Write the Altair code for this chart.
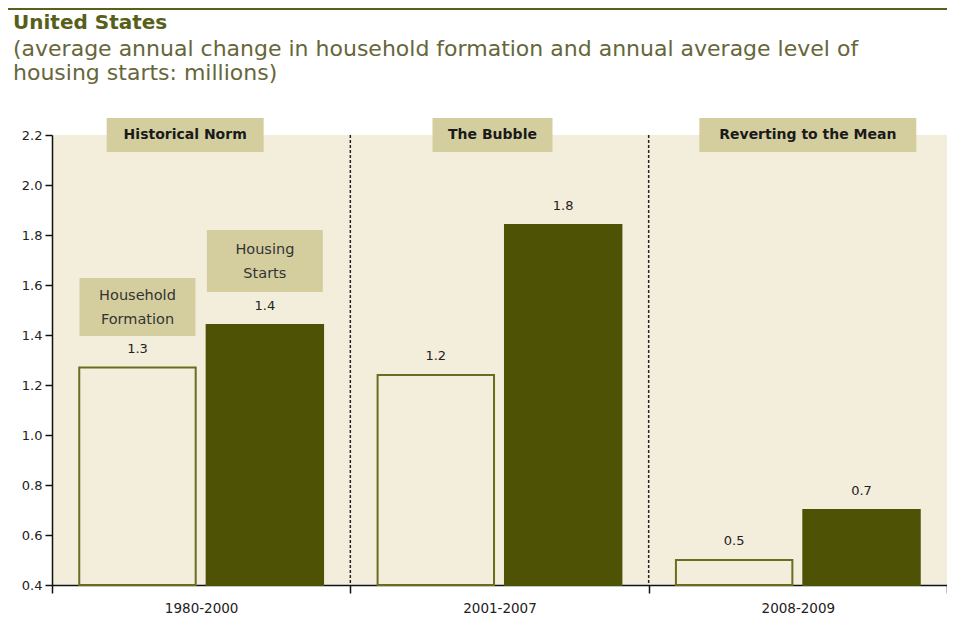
import altair as alt
import pandas as pd

periods = ["1980-2000", "2001-2007", "2008-2009"]
series = ["Household Formation", "Housing Starts"]
household_formation = [1.27, 1.24, 0.50]
housing_starts = [1.44, 1.84, 0.70]
headers = ["Historical Norm", "The Bubble", "Reverting to the Mean"]
y_ticks = [0.4, 0.6, 0.8, 1.0, 1.2, 1.4, 1.6, 1.8, 2.0, 2.2]

BG = "#F3EEDC"
DARK = "#4E5205"
OLIVE = "#6B6D1E"
BOX = "#D4CE9F"
FONT = "DejaVu Sans"

rows = []
for i, p in enumerate(periods):
    rows.append({"period": p, "series": series[0], "value": household_formation[i]})
    rows.append({"period": p, "series": series[1], "value": housing_starts[i]})
df = pd.DataFrame(rows)

x_scale = alt.Scale(domain=periods, paddingInner=0, paddingOuter=0)
off_scale = alt.Scale(domain=series, paddingInner=0.086, paddingOuter=0.214)
y_scale = alt.Scale(domain=[0.4, 2.2], nice=False, zero=False)

X = alt.X("period:N", scale=x_scale, sort=periods,
          axis=alt.Axis(title=None, tickBand="extent", labelAngle=0, domainColor="#111",
                        domainWidth=1.5, tickColor="#111", tickWidth=1.5, tickSize=8,
                        labelPadding=8, labelFont=FONT, labelFontSize=13.5, labelColor="#222",
                        grid=False))
XN = alt.X("period:N", scale=x_scale, sort=periods)
XO = alt.XOffset("series:N", scale=off_scale, sort=series)

base = alt.Chart(df)

bars = base.mark_bar(strokeWidth=2).encode(
    x=X,
    xOffset=XO,
    y=alt.Y("value:Q", scale=y_scale,
            axis=alt.Axis(title=None, values=y_ticks, format=".1f", grid=False,
                          domainColor="#111", domainWidth=1.5, tickColor="#111",
                          tickWidth=1.5, tickSize=7, labelPadding=3, labelFont=FONT,
                          labelFontSize=13, labelColor="#222")),
    y2=alt.datum(0.4),
    fill=alt.Fill("series:N", scale=alt.Scale(domain=series, range=[BG, DARK]), legend=None),
    stroke=alt.Stroke("series:N", scale=alt.Scale(domain=series, range=[OLIVE, DARK]), legend=None),
)

labels = base.mark_text(dy=-19, baseline="middle", font=FONT, fontSize=13, color="#222").encode(
    x=XN,
    xOffset=XO,
    y=alt.Y("value:Q", scale=y_scale),
    text=alt.Text("value:Q", format=".1f"),
)

div_df = pd.DataFrame({"period": periods[:2]})
dividers = alt.Chart(div_df).mark_rule(color="#222", strokeWidth=1.5, strokeDash=[3, 2]).encode(
    x=alt.X("period:N", scale=x_scale, sort=periods, bandPosition=1),
    y=alt.datum(2.2),
    y2=alt.datum(0.4),
)

# header boxes
hdr_layers = []
box_widths = [157, 120, 217]
box_offsets = [-16, -7, 10]
for p, h, w, o in zip(periods, headers, box_widths, box_offsets):
    hdf = pd.DataFrame({"period": [p], "header": [h]})
    hb = alt.Chart(hdf).mark_bar(color=BOX, width=w, xOffset=o).encode(
        x=XN,
        y=alt.datum(2.132),
        y2=alt.datum(2.268),
    )
    ht = alt.Chart(hdf).mark_text(font=FONT, fontSize=14, fontWeight="bold", color="#1a1a1a",
                                  baseline="middle", dx=o).encode(
        x=XN,
        y=alt.datum(2.2),
        text="header:N",
    )
    hdr_layers += [hb, ht]

# legend-like boxes above first group
leg_df = pd.DataFrame({
    "period": [periods[0], periods[0]],
    "series": series,
    "lbl": ["Household\nFormation", "Housing\nStarts"],
    "lo": [1.396, 1.572],
    "hi": [1.628, 1.82],
})
leg_box = alt.Chart(leg_df).mark_bar(color=BOX, width=116).encode(
    x=XN,
    xOffset=XO,
    y=alt.Y("lo:Q", scale=y_scale),
    y2="hi:Q",
)
leg_txt = alt.Chart(leg_df).transform_calculate(mid="(datum.lo + datum.hi) / 2").mark_text(
    font=FONT, fontSize=14.5, color="#333", lineBreak="\n", lineHeight=24, baseline="middle",
    dy=-11,
).encode(
    x=XN,
    xOffset=XO,
    y=alt.Y("mid:Q", scale=y_scale),
    text="lbl:N",
)

top_line = alt.Chart(pd.DataFrame({"a": [0]})).mark_rule(color="#5B6019", strokeWidth=2).encode(
    x=alt.value(-44), x2=alt.value(895), y=alt.value(-126)
)

chart = alt.layer(bars, dividers, labels, leg_box, leg_txt, *hdr_layers, top_line).properties(
    width=895,
    height=450,
    background="white",
    autosize=alt.AutoSizeParams(type="none"),
    padding={"left": 44, "top": 127, "right": 0, "bottom": 32},
    title=alt.TitleParams(
        text="United States",
        subtitle=["(average annual change in household formation and annual average level of",
                  "housing starts: millions)"],
        anchor="start", frame="group", dx=-39, offset=-75.5,
        font=FONT, fontSize=20, fontWeight="bold", color="#566019",
        subtitleFont=FONT, subtitleFontSize=22, subtitleColor="#66663A",
        subtitleLineHeight=24, subtitlePadding=6,
    ),
).configure_view(fill=BG, stroke="transparent", strokeWidth=0).configure_axis(grid=False)

chart.save("out.html", embed_options={"renderer": "svg", "actions": False})
